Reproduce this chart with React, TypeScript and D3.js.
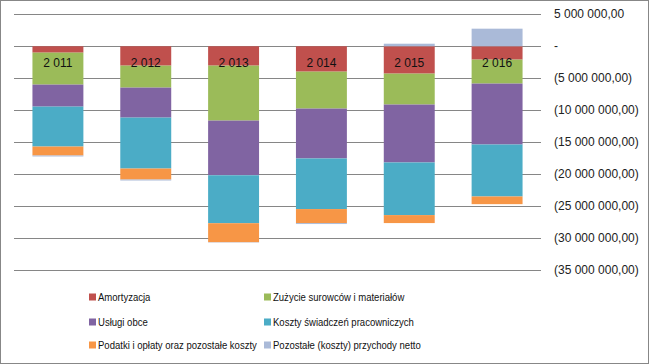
import React, { useEffect, useRef } from 'react';
import * as d3 from 'd3';

const years = ['2011', '2012', '2013', '2014', '2015', '2016'];
const yearLabels = ['2 011', '2 012', '2 013', '2 014', '2 015', '2 016'];

// values in PLN
const amortyzacja = [-1.0e6, -3.03e6, -3.03e6, -3.97e6, -4.28e6, -2.09e6];
const zuzycie = [-5.0e6, -3.44e6, -8.6e6, -5.78e6, -4.84e6, -3.75e6];
const uslugi = [-3.44e6, -4.69e6, -8.55e6, -7.8e6, -9.06e6, -9.53e6];
const koszty = [-6.25e6, -7.97e6, -7.5e6, -7.92e6, -8.23e6, -8.13e6];
const podatki = [-1.4e6, -1.72e6, -2.97e6, -2.19e6, -1.25e6, -1.2e6];
const pozostale = [-0.15e6, -0.15e6, -0.05e6, -0.15e6, 0.4e6, 2.75e6];

const seriesNames = [
  'Amortyzacja',
  'Zużycie surowców i materiałów',
  'Usługi obce',
  'Koszty świadczeń pracowniczych',
  'Podatki i opłaty oraz pozostałe koszty',
  'Pozostałe (koszty) przychody netto',
];
const seriesValues = [amortyzacja, zuzycie, uslugi, koszty, podatki, pozostale];
const colors = ['#C0504D', '#9BBB59', '#8064A2', '#4BACC6', '#F79646', '#AABAD8'];
const yTicks = [5e6, 0, -5e6, -10e6, -15e6, -20e6, -25e6, -30e6, -35e6];

const width = 649, height = 364;
const font = '"Liberation Sans", Arial, sans-serif';

const fmtNum = (v: number) => {
  const s = d3.format(',.2f')(Math.abs(v)).replace(/,/g, ' ').replace('.', ',');
  if (v === 0) return '-';
  return v < 0 ? `(${s})` : s;
};

const Chart = () => {
  const svgRef = useRef<SVGSVGElement>(null);

  useEffect(() => {
    const svg = d3.select(svgRef.current);
    svg.selectAll('*').remove();

    const table = years.map((y, i) => {
      const row: any = { year: y };
      seriesNames.forEach((n, k) => { row[n] = seriesValues[k][i]; });
      return row;
    });

    const x = d3.scaleBand()
      .domain(years)
      .range([14, 541])
      .paddingInner(0.42)
      .paddingOuter(0.21);

    const y = d3.scaleLinear()
      .domain([-35e6, 5e6])
      .range([270, 14.3]);

    // chart border
    svg.append('rect')
      .attr('x', 0.5).attr('y', 0.5)
      .attr('width', width - 1).attr('height', height - 1)
      .attr('fill', '#fff')
      .attr('stroke', '#878787');

    // gridlines
    svg.append('g')
      .selectAll('line')
      .data(yTicks)
      .join('line')
      .attr('x1', 14).attr('x2', 541)
      .attr('y1', d => Math.round(y(d)) + 0.5)
      .attr('y2', d => Math.round(y(d)) + 0.5)
      .attr('stroke', '#868686');

    // right axis labels
    svg.append('g')
      .selectAll('text')
      .data(yTicks)
      .join('text')
      .attr('x', 554)
      .attr('y', d => y(d) + 4)
      .attr('font-family', font)
      .attr('font-size', 12)
      .attr('fill', '#222')
      .text(d => fmtNum(d));

    const stack = d3.stack<any>()
      .keys(seriesNames)
      .offset(d3.stackOffsetDiverging);
    const stacked = stack(table);

    svg.append('g')
      .selectAll('g')
      .data(stacked)
      .join('g')
      .attr('fill', (d, i) => colors[i])
      .selectAll('rect')
      .data(d => d)
      .join('rect')
      .attr('x', d => x(d.data.year)!)
      .attr('width', x.bandwidth())
      .attr('y', d => y(d[1]))
      .attr('height', d => y(d[0]) - y(d[1]));

    // category labels over the bars
    svg.append('g')
      .selectAll('text')
      .data(years)
      .join('text')
      .attr('x', d => x(d)! + x.bandwidth() / 2)
      .attr('y', 67)
      .attr('text-anchor', 'middle')
      .attr('font-family', font)
      .attr('font-size', 12)
      .attr('fill', '#111')
      .text((d, i) => yearLabels[i]);

    // legend (text squeezed a bit, the original font is narrower)
    const legend = svg.append('g')
      .selectAll('g')
      .data(seriesNames)
      .join('g')
      .attr('transform', (d, i) => `translate(${i % 2 === 0 ? 89 : 264},${[297, 322, 345][Math.floor(i / 2)]})`);
    legend.append('rect')
      .attr('x', 0).attr('y', -3.5)
      .attr('width', 7).attr('height', 7)
      .attr('fill', (d, i) => colors[i]);
    legend.append('text')
      .attr('transform', 'translate(9,4) scale(0.83,1)')
      .attr('font-family', font)
      .attr('font-size', 11.5)
      .attr('fill', '#111')
      .text(d => d);
  }, []);

  return <svg ref={svgRef} width={width} height={height} style={{ position: 'absolute', left: 0, top: 0 }} />;
};

export default function App() {
  return <Chart />;
}
